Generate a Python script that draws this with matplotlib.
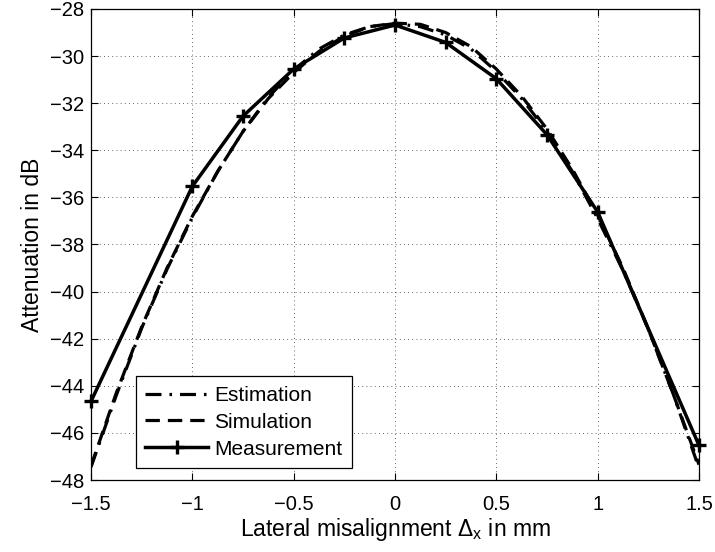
import matplotlib
matplotlib.use("Agg")
import matplotlib.pyplot as plt
import numpy as np

plt.rcParams['font.family'] = ['Liberation Sans', 'DejaVu Sans']
plt.rcParams['mathtext.fontset'] = 'custom'
plt.rcParams['mathtext.rm'] = 'Liberation Sans'
plt.rcParams['mathtext.it'] = 'Liberation Sans'

# Data
x_curve = [-1.5, -1.375, -1.25, -1.125, -1.0, -0.875, -0.75, -0.625, -0.5, -0.375, -0.25, -0.125,
           0.0, 0.125, 0.25, 0.375, 0.5, 0.625, 0.75, 0.875, 1.0, 1.125, 1.25, 1.375, 1.5]
estimation = [-47.45, -44.4, -41.55, -39.05, -36.85, -34.9, -33.2, -31.75, -30.6, -29.7, -29.1, -28.75,
              -28.62, -28.75, -29.1, -29.7, -30.65, -31.8, -33.2, -34.9, -36.9, -39.1, -41.6, -44.4, -47.5]
simulation = [-47.4, -44.3, -41.5, -39.0, -36.8, -34.9, -33.2, -31.8, -30.7, -29.8, -29.15, -28.75,
              -28.6, -28.65, -29.0, -29.6, -30.55, -31.7, -33.1, -34.8, -36.75, -39.0, -41.6, -44.4, -47.35]
x_meas = [-1.5, -1.0, -0.75, -0.5, -0.25, 0.0, 0.25, 0.5, 0.75, 1.0, 1.5]
measurement = [-44.66, -35.53, -32.55, -30.55, -29.23, -28.68, -29.42, -30.96, -33.34, -36.62, -46.53]

x_ticks = [-1.5, -1, -0.5, 0, 0.5, 1, 1.5]
x_ticklabels = ['\u22121.5', '\u22121', '\u22120.5', '0', '0.5', '1', '1.5']
y_ticks = list(range(-48, -27, 2))
y_ticklabels = ['\u2212%d' % abs(v) for v in y_ticks]

fig = plt.figure(figsize=(7.15, 5.52), dpi=100)
ax = fig.add_axes([91/715, 72/552, (699-91)/715, (480-9)/552])

ax.plot(x_curve, estimation, color='black', lw=2.3, dashes=(5, 2.5, 0.8, 2.5), label='Estimation')
ax.plot(x_curve, simulation, color='black', lw=2.3, dashes=(4.5, 2.5), label='Simulation')
ax.plot(x_meas, measurement, color='black', lw=2.5, marker='+', markersize=10, markeredgewidth=2.4,
        label='Measurement', clip_on=False, zorder=5)

ax.set_xlim(-1.5, 1.5)
ax.set_ylim(-48, -28)
ax.set_xticks(x_ticks)
ax.set_xticklabels(x_ticklabels)
ax.set_yticks(y_ticks)
ax.set_yticklabels(y_ticklabels)
ax.tick_params(direction='in', top=True, right=True, labelsize=14.5, length=5, width=0.8)
ax.tick_params(axis='x', pad=11)
ax.tick_params(axis='y', pad=5)
ax.grid(True, color='black', linestyle=(0, (1, 4)), linewidth=0.6, alpha=0.8)
for s in ax.spines.values():
    s.set_linewidth(0.9)

ax.set_xlabel(r'Lateral misalignment $\mathrm{\Delta}_{\mathrm{x}}$ in mm', fontsize=16.5, labelpad=1)
ax.set_ylabel('Attenuation in dB', fontsize=16.5, labelpad=4)

leg = ax.legend(loc='lower left', bbox_to_anchor=(45/608, 12/471), fontsize=15, frameon=True,
                fancybox=False, edgecolor='black', framealpha=1, borderpad=0.45, labelspacing=0.38,
                handlelength=3.0, handletextpad=0.3, borderaxespad=0)
leg.get_frame().set_linewidth(0.9)
leg.set_zorder(10)

fig.savefig('out.png', dpi=100)
